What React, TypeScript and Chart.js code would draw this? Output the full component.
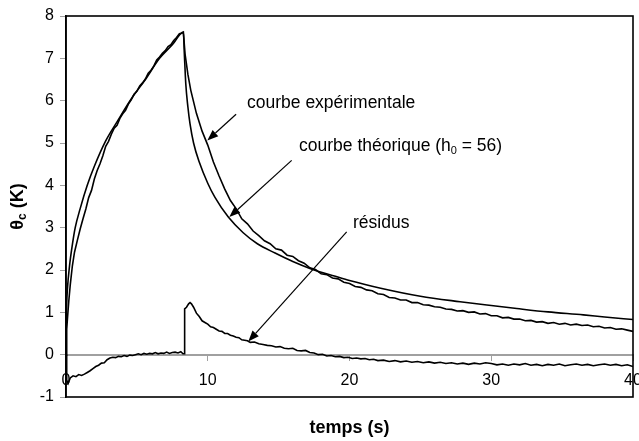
import React, { useEffect, useRef } from "react";
import { Chart, registerables } from "chart.js";

Chart.register(...registerables);

const FONT = '"Liberation Sans", Arial, Helvetica, sans-serif';

// Axis ticks
const xTicks = [0, 10, 20, 30, 40];
const yTicks = [-1, 0, 1, 2, 3, 4, 5, 6, 7, 8];

// Theoretical curve (smooth)
const tTheo = [
  0, 0.02, 0.05, 0.1, 0.25, 0.45, 0.65, 1.0, 1.5, 2.0,
  2.8, 3.6, 4.6, 5.6, 6.6, 7.5, 8.28, 8.35, 8.45, 8.6,
  8.75, 9.0, 9.4, 10.0, 10.5, 11.45, 12.5, 13.5, 14.75, 16.0,
  17.34, 19, 20, 22.2, 25, 27.8, 30, 31.8, 34, 36.5,
  38, 40,
];
const theo = [
  0, 0.7, 1.2, 1.55, 2.1, 2.6, 3.0, 3.45, 4.0, 4.45,
  5.05, 5.5, 6.04, 6.5, 7.0, 7.32, 7.62, 7.1, 6.4, 5.85,
  5.45, 5.0, 4.55, 4.05, 3.72, 3.25, 2.88, 2.62, 2.4, 2.2,
  2.02, 1.85, 1.75, 1.57, 1.38, 1.25, 1.16, 1.09, 1.01, 0.94,
  0.89, 0.83,
];

// Experimental curve (noisy)
const tExp = [
  0, 0.05, 0.1, 0.2, 0.3, 0.45, 0.6, 0.8, 1.0, 1.2,
  1.4, 1.6, 1.8, 2.0, 2.2, 2.4, 2.6, 2.8, 3.0, 3.2,
  3.4, 3.6, 3.8, 4.0, 4.2, 4.4, 4.6, 4.8, 5.0, 5.2,
  5.4, 5.6, 5.8, 6.0, 6.2, 6.4, 6.6, 6.8, 7.0, 7.2,
  7.4, 7.6, 7.8, 8.0, 8.15, 8.28, 8.4, 8.6, 8.8, 9.2,
  9.6, 10.0, 10.4, 10.8, 11.2, 11.6, 12.0, 12.4, 12.8, 13.2,
  13.6, 14.0, 14.4, 14.8, 15.2, 15.6, 16.0, 16.4, 16.8, 17.2,
  17.6, 18.0, 18.4, 18.8, 19.2, 19.6, 20.0, 20.4, 20.8, 21.2,
  21.6, 22.0, 22.4, 22.8, 23.2, 23.6, 24.0, 24.4, 24.8, 25.2,
  25.6, 26.0, 26.4, 26.8, 27.2, 27.6, 28.0, 28.4, 28.8, 29.2,
  29.6, 30.0, 30.4, 30.8, 31.2, 31.6, 32.0, 32.4, 32.8, 33.2,
  33.6, 34.0, 34.4, 34.8, 35.2, 35.6, 36.0, 36.4, 36.8, 37.2,
  37.6, 38.0, 38.4, 38.8, 39.2, 39.6, 40.0,
];
const exp = [
  0, 0.6, 0.84, 1.28, 1.65, 2.1, 2.42, 2.7, 2.97, 3.21,
  3.44, 3.71, 3.88, 4.15, 4.35, 4.51, 4.7, 4.92, 5.04, 5.21,
  5.35, 5.42, 5.58, 5.69, 5.77, 5.92, 6.02, 6.15, 6.22, 6.35,
  6.42, 6.51, 6.65, 6.72, 6.82, 6.96, 7.03, 7.12, 7.18, 7.28,
  7.32, 7.42, 7.49, 7.58, 7.59, 7.62, 7.1, 6.62, 6.25, 5.7,
  5.28, 4.95, 4.55, 4.22, 3.91, 3.64, 3.45, 3.21, 3.09, 2.92,
  2.81, 2.69, 2.62, 2.5, 2.47, 2.35, 2.32, 2.22, 2.16, 2.05,
  2.01, 1.91, 1.89, 1.81, 1.79, 1.71, 1.68, 1.61, 1.59, 1.53,
  1.51, 1.44, 1.42, 1.35, 1.34, 1.29, 1.29, 1.23, 1.23, 1.18,
  1.17, 1.13, 1.12, 1.08, 1.07, 1.03, 1.04, 1.0, 1.01, 0.96,
  0.97, 0.92, 0.92, 0.87, 0.88, 0.84, 0.84, 0.8, 0.81, 0.77,
  0.78, 0.74, 0.76, 0.72, 0.74, 0.7, 0.72, 0.69, 0.7, 0.66,
  0.67, 0.63, 0.64, 0.6, 0.61, 0.58, 0.55,
];

// Residuals
const tRes = [
  0, 0.05, 0.15, 0.3, 0.5, 0.7, 0.9, 1.1, 1.3, 1.5,
  1.7, 1.9, 2.1, 2.3, 2.5, 2.7, 2.9, 3.1, 3.3, 3.5,
  3.7, 3.9, 4.1, 4.3, 4.5, 4.7, 4.9, 5.1, 5.3, 5.5,
  5.7, 5.9, 6.1, 6.3, 6.5, 6.7, 6.9, 7.1, 7.3, 7.5,
  7.7, 7.9, 8.1, 8.25, 8.33, 8.37, 8.5, 8.65, 8.75, 8.85,
  9.0, 9.2, 9.4, 9.6, 9.8, 10.0, 10.2, 10.4, 10.6, 10.8,
  11.0, 11.2, 11.4, 11.6, 11.8, 12.0, 12.2, 12.4, 12.6, 12.8,
  13.0, 13.3, 13.6, 13.9, 14.2, 14.5, 14.8, 15.1, 15.4, 15.7,
  16.0, 16.3, 16.6, 16.9, 17.2, 17.5, 17.8, 18.1, 18.4, 18.7,
  19.0, 19.3, 19.6, 19.9, 20.2, 20.5, 20.8, 21.1, 21.4, 21.7,
  22.0, 22.4, 22.8, 23.2, 23.6, 24.0, 24.4, 24.8, 25.2, 25.6,
  26.0, 26.4, 26.8, 27.2, 27.6, 28.0, 28.4, 28.8, 29.2, 29.6,
  30.0, 30.4, 30.8, 31.2, 31.6, 32.0, 32.4, 32.8, 33.2, 33.6,
  34.0, 34.4, 34.8, 35.2, 35.6, 36.0, 36.4, 36.8, 37.2, 37.6,
  38.0, 38.4, 38.8, 39.2, 39.6, 40.0,
];
const res = [
  0, -0.6, -0.68, -0.55, -0.5, -0.52, -0.47, -0.49, -0.46, -0.42,
  -0.38, -0.33, -0.28, -0.25, -0.2, -0.19, -0.12, -0.08, -0.06, -0.07,
  -0.04, -0.05, -0.02, -0.04, -0.01, -0.02, 0.0, 0.02, 0.0, 0.03,
  0.01, 0.03, 0.02, 0.05, 0.02, 0.04, 0.03, 0.06, 0.03, 0.05,
  0.06, 0.04, 0.07, 0.02, 0.02, 1.08, 1.12, 1.2, 1.23, 1.2,
  1.12, 0.98, 0.9, 0.8, 0.76, 0.72, 0.66, 0.64, 0.6, 0.56,
  0.55, 0.5, 0.5, 0.46, 0.44, 0.41, 0.4, 0.35, 0.34, 0.33,
  0.29, 0.3, 0.26, 0.24, 0.22, 0.21, 0.18, 0.19, 0.15, 0.14,
  0.15, 0.1, 0.09, 0.1, 0.05, 0.04, 0.0, 0.01, -0.03, -0.02,
  -0.05, -0.04, -0.07, -0.06, -0.09, -0.08, -0.1, -0.09, -0.12, -0.11,
  -0.14, -0.13, -0.16, -0.14, -0.17, -0.15, -0.18, -0.16, -0.19, -0.17,
  -0.2, -0.18, -0.21, -0.19, -0.22, -0.2, -0.23, -0.2, -0.22, -0.19,
  -0.21, -0.24, -0.22, -0.25, -0.22, -0.24, -0.21, -0.25, -0.23, -0.26,
  -0.23, -0.25, -0.22, -0.26, -0.24, -0.22, -0.25, -0.23, -0.26, -0.24,
  -0.22, -0.25, -0.23, -0.26, -0.24, -0.28,
];

const xTitle = "temps (s)";

// Annotation labels and arrows (data coordinates)
const notes = [
  { parts: [["courbe expérimentale", 0]], at: [12.77, 5.93], from: [12.0, 5.68], to: [9.97, 5.06] },
  { parts: [["courbe théorique (h", 0], ["0", 1], [" = 56)", 0]], at: [16.44, 4.92], from: [15.92, 4.59], to: [11.52, 3.25] },
  { parts: [["résidus", 0]], at: [20.25, 3.1], from: [19.8, 2.9], to: [12.86, 0.31] },
];

const toXY = (ts: number[], ys: number[]) => ts.map((t, i) => ({ x: t, y: ys[i] }));

const decor = {
  id: "decor",
  afterDraw(chart: any) {
    const { ctx, chartArea: a, scales } = chart;
    const sx = scales.x;
    const sy = scales.y;
    ctx.save();
    // frame
    ctx.strokeStyle = "#000";
    ctx.lineWidth = 1.6;
    ctx.strokeRect(a.left, a.top, a.right - a.left, a.bottom - a.top);

    // arrows + labels
    ctx.fillStyle = "#000";
    for (const n of notes) {
      const x1 = sx.getPixelForValue(n.from[0]);
      const y1 = sy.getPixelForValue(n.from[1]);
      const x2 = sx.getPixelForValue(n.to[0]);
      const y2 = sy.getPixelForValue(n.to[1]);
      const ang = Math.atan2(y2 - y1, x2 - x1);
      const L = 11, W = 4.2;
      const bx = x2 - L * Math.cos(ang);
      const by = y2 - L * Math.sin(ang);
      ctx.lineWidth = 1.2;
      ctx.beginPath();
      ctx.moveTo(x1, y1);
      ctx.lineTo(bx, by);
      ctx.stroke();
      ctx.beginPath();
      ctx.moveTo(x2, y2);
      ctx.lineTo(bx - W * Math.sin(ang), by + W * Math.cos(ang));
      ctx.lineTo(bx + W * Math.sin(ang), by - W * Math.cos(ang));
      ctx.closePath();
      ctx.fill();

      let tx = sx.getPixelForValue(n.at[0]);
      const ty = sy.getPixelForValue(n.at[1]);
      ctx.textBaseline = "middle";
      ctx.textAlign = "left";
      for (const [s, isSub] of n.parts as any) {
        ctx.font = isSub ? `11px ${FONT}` : `17.5px ${FONT}`;
        ctx.fillText(s, tx, isSub ? ty + 5 : ty);
        tx += ctx.measureText(s).width;
      }
    }

    // y title with subscript
    ctx.save();
    ctx.translate(18, (a.top + a.bottom) / 2);
    ctx.rotate(-Math.PI / 2);
    ctx.textBaseline = "middle";
    ctx.textAlign = "left";
    ctx.font = `bold 18px ${FONT}`;
    const w1 = ctx.measureText("θ").width;
    const w3 = ctx.measureText(" (K)").width;
    ctx.font = `bold 12px ${FONT}`;
    const w2 = ctx.measureText("c").width;
    let px = -(w1 + w2 + w3) / 2;
    ctx.font = `bold 18px ${FONT}`;
    ctx.fillText("θ", px, 0);
    px += w1;
    ctx.font = `bold 12px ${FONT}`;
    ctx.fillText("c", px, 5);
    px += w2;
    ctx.font = `bold 18px ${FONT}`;
    ctx.fillText(" (K)", px, 0);
    ctx.restore();

    // x title
    ctx.font = `bold 18px ${FONT}`;
    ctx.textAlign = "center";
    ctx.textBaseline = "middle";
    ctx.fillText(xTitle, (a.left + a.right) / 2, a.bottom + 31);
    ctx.restore();
  },
};

export default function App() {
  const ref = useRef<HTMLCanvasElement | null>(null);
  useEffect(() => {
    if (!ref.current) return;
    const line = { borderColor: "#000", borderWidth: 1.6, pointRadius: 0, fill: false };
    const chart = new Chart(ref.current, {
      type: "line",
      data: {
        datasets: [
          { ...line, label: "théorique", data: toXY(tTheo, theo), cubicInterpolationMode: "monotone" },
          { ...line, label: "expérimentale", data: toXY(tExp, exp), tension: 0 },
          { ...line, label: "résidus", data: toXY(tRes, res), tension: 0 },
        ],
      },
      options: {
        animation: false,
        responsive: false,
        devicePixelRatio: 1,
        layout: { padding: { top: 16, right: 6, bottom: 44, left: 0 }, autoPadding: false },
        plugins: { legend: { display: false }, tooltip: { enabled: false } },
        scales: {
          x: {
            type: "linear",
            min: 0,
            max: 40,
            position: { y: 0 } as any,
            afterBuildTicks: (s: any) => { s.ticks = xTicks.map((v) => ({ value: v })); },
            afterFit: (s: any) => { s.paddingLeft = 0; s.paddingRight = 0; },
            ticks: { color: "#000", font: { family: FONT, size: 16 }, padding: 11, maxRotation: 0, autoSkip: false },
            grid: { drawOnChartArea: false, drawTicks: true, tickLength: 5, color: "#a0a0a0" },
            border: { color: "#a0a0a0", width: 2 },
          },
          y: {
            type: "linear",
            min: -1,
            max: 8,
            position: "left",
            afterBuildTicks: (s: any) => { s.ticks = yTicks.map((v) => ({ value: v })); },
            afterFit: (s: any) => { s.width = 66; },
            ticks: { color: "#000", font: { family: FONT, size: 16 }, padding: 6, autoSkip: false },
            grid: { drawOnChartArea: false, drawTicks: true, tickLength: 6, color: "#a0a0a0" },
            border: { color: "#000", width: 1.6 },
          },
        },
      },
      plugins: [decor],
    } as any);
    return () => chart.destroy();
  }, []);
  return (
    <canvas
      ref={ref}
      width={639}
      height={441}
      style={{ position: "fixed", left: 0, top: 0, width: 639, height: 441 }}
    />
  );
}
